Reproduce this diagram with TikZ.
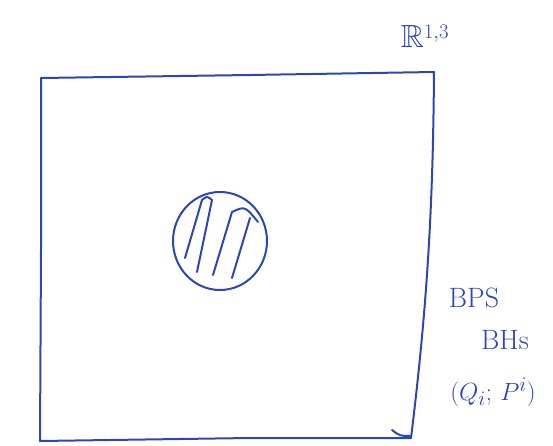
\documentclass[tikz,border=0pt]{standalone}
\usepackage{amssymb}
\definecolor{ink}{RGB}{45,70,180}
\begin{document}
\begin{tikzpicture}[x=1pt,y=-1pt,
  pen/.style={draw=ink,line width=2pt,line cap=round,line join=round},
  lbl/.style={text=ink,font=\fontsize{28}{30}\selectfont,inner sep=0pt}]
\useasboundingbox (0,0) rectangle (553,446);
% box
\draw[pen] (41,78) -- (250,75) -- (434,72) .. controls (433,200) and (428,300) .. (411,438)
  -- (250,438) -- (40,441) -- (41,250) -- cycle;
\draw[pen] (392,430) .. controls (400,436) .. (411,436);
% black hole disc
\draw[pen] (220,241) ellipse [x radius=47, y radius=49];
\draw[pen] (185,258) -- (202,200) .. controls (207,196) .. (212,200) -- (197,272);
\draw[pen] (213,275) -- (232,212);
\draw[pen] (232,278) -- (250,218);
\draw[pen] (232,212) .. controls (245,206) .. (258,222);
% labels
\node[lbl,font=\fontsize{32}{34}\selectfont] (R) at (425,36) {$\mathbb{R}^{1,3}$};
\node[lbl] (bps) at (474,298) {BPS};
\node[lbl] (bhs) at (505,340) {BHs};
\node[lbl] (qp) at (493,392) {$(Q_i;\,P^i)$};
\end{tikzpicture}
\end{document}
